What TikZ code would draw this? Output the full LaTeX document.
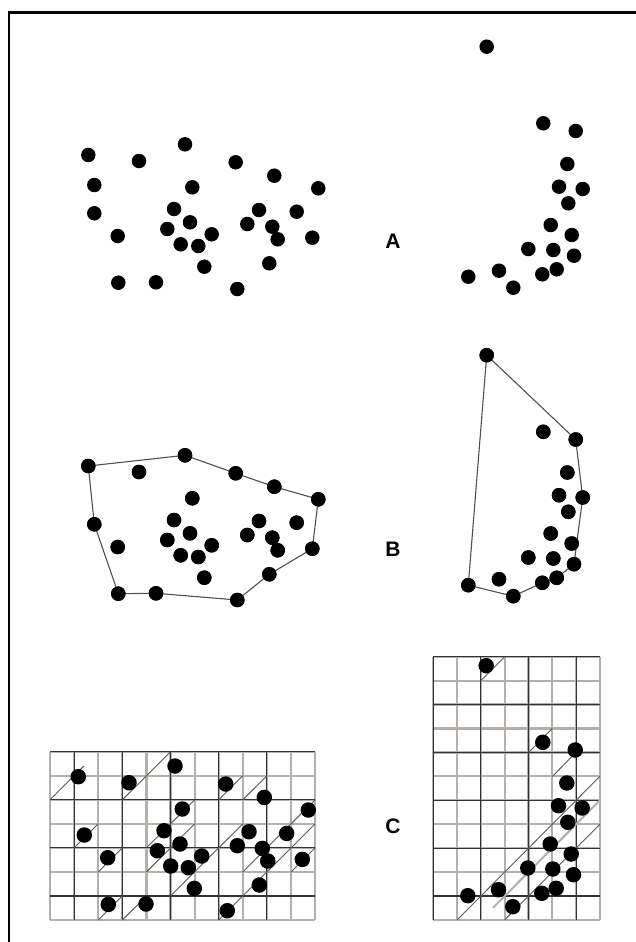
\documentclass[tikz,border=0pt]{standalone}
\usepackage{fontspec}
\setmainfont{Liberation Sans}
\definecolor{gridgray}{RGB}{180,175,170}
\definecolor{griddark}{RGB}{50,50,50}
\definecolor{diag}{RGB}{90,90,90}
\definecolor{hull}{RGB}{80,80,80}
\tikzset{
  dot/.style={circle,fill=black,draw=none,inner sep=0pt,minimum size=14.5pt},
  bigdot/.style={circle,fill=black,draw=none,inner sep=0pt,minimum size=15.5pt},
  hullline/.style={draw=hull,line width=1.1pt},
  glight/.style={draw=gridgray,line width=2.2pt},
  gdark/.style={draw=griddark,line width=1.1pt},
  diagline/.style={draw=diag,line width=0.9pt},
  diaggray/.style={draw=gridgray,line width=2pt},
  lbl/.style={font=\bfseries\fontsize{21}{21}\selectfont,inner sep=0pt}
}
\newcommand\leftpts{1/88.3/155, 2/139/161, 3/185/144.3, 4/235.7/162.3, 5/274.3/175.7, 6/318.3/188.3, 8/192.3/187.3, 9/94.3/213.3, 10/174/209, 11/259/210, 12/296.7/211.7, 13/117.7/236, 14/167.3/229, 15/190/222.3, 16/211.7/234.3, 17/247.3/224, 18/272.3/226.7, 19/277.7/239.3, 20/312.3/237.7, 21/180.7/244.3, 22/198.3/246, 23/204.3/266.7, 24/269.3/263.3, 25/118.3/282.7, 26/156/282.3, 27/237.3/289}
\newcommand\rightpts{1/486.7/46.7, 2/543.3/123.3, 3/575.7/131, 4/567.3/164, 5/559/186.7, 6/582.7/189, 7/568.3/203.3, 8/550.7/225, 9/571.7/235, 10/528.3/249, 11/553.3/250, 12/574/255.7, 13/468.3/276.7, 14/499/270.7, 15/513.3/287.7, 16/542.3/274.3, 17/556.7/269.3}
\begin{document}
\begin{tikzpicture}[x=1pt,y=-1pt]
\useasboundingbox (0,0) rectangle (635,942);
\fill[white] (0,0) rectangle (635,942);
% frame
\coordinate (fbl) at (9,942);
\coordinate (ftl) at (9,12.3);
\coordinate (ftr) at (635,12.3);
\draw[line width=2.6pt,line cap=rect] (fbl) -- (ftl) -- (ftr);

% ---------- A ----------
\foreach \n/\x/\y in \leftpts { \node[dot] (aL\n) at (\x,\y) {}; }
\node[dot] (aL7) at (94.3,185) {};
\foreach \n/\x/\y in \rightpts { \node[dot] (aR\n) at (\x,\y) {}; }
\node[lbl] (labA) at (393,241) {A};

% ---------- B ----------
\begin{scope}[shift={(0,311)}]
\foreach \n/\x/\y in \leftpts { \node[dot] (bL\n) at (\x,\y) {}; }
\end{scope}
\begin{scope}[shift={(0,308.5)}]
\foreach \n/\x/\y in \rightpts { \node[dot] (bR\n) at (\x,\y) {}; }
\end{scope}
\draw[hullline] (bL1.center) -- (bL3.center) -- (bL4.center) -- (bL5.center) -- (bL6.center) -- (bL20.center) -- (bL24.center) -- (bL27.center) -- (bL26.center) -- (bL25.center) -- (bL9.center) -- cycle;
\draw[hullline] (bR1.center) -- (bR3.center) -- (bR6.center) -- (bR12.center) -- (bR17.center) -- (bR16.center) -- (bR15.center) -- (bR13.center) -- cycle;
\foreach \n/\x/\y in \leftpts { \fill (bL\n) circle (7.25pt); }
\foreach \n/\x/\y in \rightpts { \fill (bR\n) circle (7.25pt); }
\node[lbl] (labB) at (393,549) {B};

% ---------- C left grid ----------
\begin{scope}[shift={(50,751.7)},x=24.1pt,y=-24.05pt]
  \foreach \i in {0,...,11} { \draw[glight] (\i,0) -- (\i,7); }
  \foreach \j in {0,...,7} { \draw[glight] (0,\j) -- (11,\j); }
  \foreach \i in {1,3,5,7,9} { \draw[gdark] (\i,0) -- (\i,7); }
  \foreach \j in {0,2,4,6} { \draw[gdark] (0,\j) -- (11,\j); }
  \foreach \a/\b/\c/\d in {0/2/1.4/0.6, 3/2/5/0, 7/2/8/1, 8/2/9/1, 10/3/11/2, 1/4/2/3, 2/5/3/4, 4/4/6/2, 4/5/6/3, 5/6/8/3, 2/7/3/6, 3/7/4/6, 7/7/11/3, 8/5/10/3, 10/5/11/4}
    { \draw[diagline] (\a,\b) -- (\c,\d); }
\end{scope}
\begin{scope}[shift={(-10,621.7)}]
\foreach \n/\x/\y in \leftpts { \node[bigdot] (cL\n) at (\x,\y) {}; }
\end{scope}

% ---------- C right grid ----------
\begin{scope}[shift={(433.3,656.7)},x=23.8pt,y=-23.93pt]
  \foreach \i in {0,...,7} { \draw[glight] (\i,0) -- (\i,11); }
  \foreach \j in {0,...,11} { \draw[glight] (0,\j) -- (7,\j); }
  \foreach \i in {0,2,4,6} { \draw[gdark] (\i,0) -- (\i,11); }
  \foreach \j in {0,2,4,6,8,10} { \draw[gdark] (0,\j) -- (7,\j); }
  \draw[diaggray] (2.5,10.5) -- (7,6);
  \foreach \a/\b/\c/\d in {2/1/3/0, 4/4/5/3, 5/5/6/4, 1/11/7/5, 3/11/7/7}
    { \draw[diagline] (\a,\b) -- (\c,\d); }
\end{scope}
\begin{scope}[shift={(-0.5,619)}]
\foreach \n/\x/\y in \rightpts { \node[bigdot] (cR\n) at (\x,\y) {}; }
\end{scope}
\node[lbl] (labC) at (393,826) {C};
\end{tikzpicture}
\end{document}
